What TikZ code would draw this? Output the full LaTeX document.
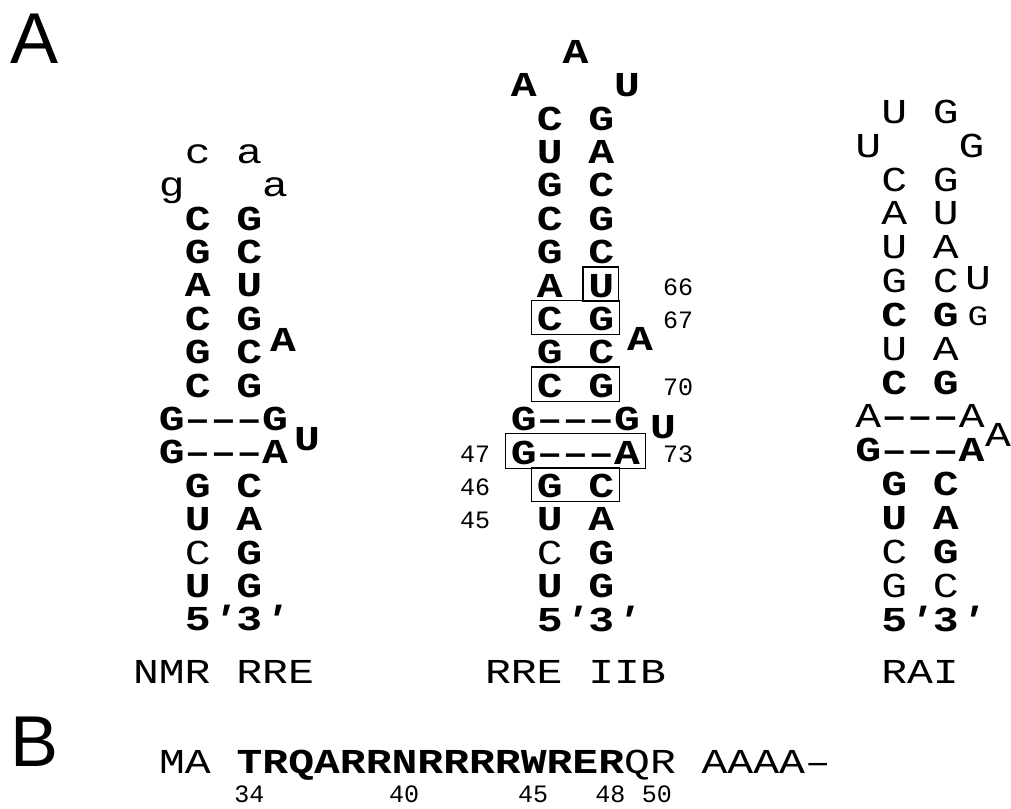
\documentclass[tikz,border=0pt]{standalone}
\usepackage{fontspec}
\setmainfont{Liberation Sans}
\newfontfamily\nucfont[Ligatures=TeXOff,FakeStretch=1.23]{Liberation Mono}
\newfontfamily\numfont{Liberation Mono}
\usetikzlibrary{positioning,fit}
\newcommand{\primemark}{{\itshape ′}}
\tikzset{
  nuc/.style={font=\nucfont\fontsize{35}{35}\selectfont,inner sep=0pt,text height=30pt,text depth=4pt},
  bnuc/.style={nuc,font=\nucfont\bfseries\fontsize{35}{35}\selectfont},
  smallnuc/.style={nuc,font=\nucfont\fontsize{28}{28}\selectfont},
  seqtext/.style={font=\nucfont\fontsize{35}{35}\selectfont,inner sep=0pt},
  resnum/.style={font=\numfont\fontsize{25}{25}\selectfont,inner sep=0pt},
  pairbox/.style={draw,line width=1.2pt,inner xsep=5pt,inner ysep=0pt},
  panel/.style={font=\fontsize{72}{72}\selectfont,inner sep=0pt}
}

\begin{document}
\begin{tikzpicture}[x=1pt,y=-1pt]
  \useasboundingbox (0,0) rectangle (1011,808);
  \node[panel] (panelA) at (35,39) {A};
  \node[panel] (panelB) at (35,742) {B};

  % NMR RRE
  \foreach \t [count=\i from 0] in {{\mdseries c~a},{\mdseries g~~~a},C G,G C,A U,C G,G C,C G,G–––G,G–––A,G C,U A,{\mdseries C} G,U G,\phantom{5}5\primemark3\primemark}
    \node[bnuc] (nmr\i) at (223.5,{217+(\i-2)*33.4}) {\t};
  \node[bnuc] (nmrbulgeA) at (283,338) {A};
  \node[bnuc] (nmrbulgeU) at (307,437) {U};
  \node[seqtext] (nmrname) at ([yshift=-54pt]nmr14) {NMR RRE};

  % RRE IIB
  \foreach \t [count=\i from 0] in {A,A~~~U,C G,U A,G C,C G,G C,A U,C G,G C,C G,G–––G,G–––A,G C,U A,{\mdseries C} G,U G,\phantom{5}5\primemark3\primemark}
    \node[bnuc] (rre\i) at (575.5,{117+(\i-2)*33.4}) {\t};
  \node[bnuc] (rrebulgeA) at (640,337) {A};
  \node[bnuc] (rrebulgeU) at (663,425) {U};
  \node[nuc,pairbox,anchor=east] (boxU) at ([xshift=5pt]rre7.east) {\phantom{U}};
  \foreach \r in {8,10,12,13}
    \node[pairbox,fit=(rre\r)] (box\r) {};
  \foreach \n/\r in {66/7,67/8,70/10,73/12}
    \node[resnum] (num\n) at ([yshift=-3pt]678,0 |- rre\r) {\n};
  \foreach \n/\r in {47/12,46/13,45/14}
    \node[resnum] (num\n) at ([yshift=-3pt]475,0 |- rre\r) {\n};
  \node[seqtext] (rrename) at ([yshift=-54pt]rre17) {RRE IIB};

  % RAI
  \foreach \t [count=\i from 0] in {U~G,U~~~G,C G,A U,U A,G C,\textbf{C} \textbf{G},U A,\textbf{C} \textbf{G},A\textbf{–––}A,\textbf{G–––A},\textbf{G C},\textbf{U A},C \textbf{G},G C,\textbf{\phantom{5}5\primemark3\primemark}}
    \node[nuc] (rai\i) at (920,{178+(\i-2)*33.85}) {\t};
  \node[nuc] (raibulgeU) at (978,276) {U};
  \node[smallnuc] (raibulgeG) at (978,312) {G};
  \node[nuc] (raibulgeA) at (998,433) {A};
  \node[seqtext] (rainame) at ([yshift=-54pt]rai15) {RAI};

  % peptide
  \node[seqtext] (seq) at (495,765) {MA \textbf{TRQARRNRRRRWRER}QR AAAA–};
  \foreach \n/\k in {34/3,40/9,45/14,48/17,50/18.8}
    \path (seq.west) ++({(\k+0.5)*25.8},29) node[resnum] (pos\n) {\n};
\end{tikzpicture}
\end{document}
